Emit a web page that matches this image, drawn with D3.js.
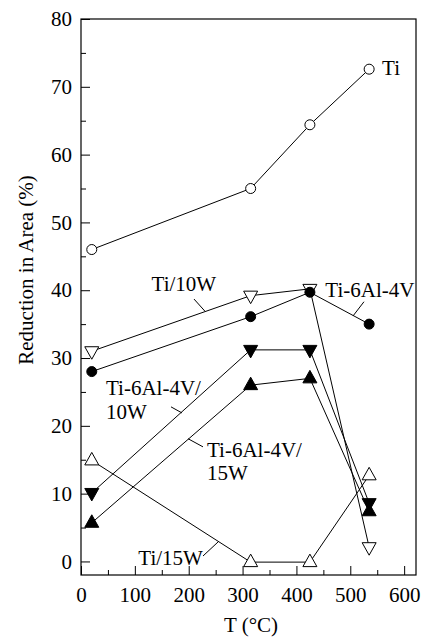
<!DOCTYPE html>
<html>
<head>
<meta charset="utf-8">
<script src="https://cdn.jsdelivr.net/npm/d3@7"></script>
<style>
html,body{margin:0;padding:0;background:#fff;}
svg{display:block;}
svg text{font-family:"Liberation Serif","Times New Roman",serif !important;fill:#000;}
</style>
</head>
<body>
<svg id="chart" width="422" height="641"></svg>
<script>
// ---- data ----
const temperatures = [20, 315, 425, 535];
const tiValues        = [46, 55, 64.4, 72.6];
const ti10WValues     = [31, 39.2, 40.2, 2.1];
const ti64Values      = [28, 36.1, 39.7, 35];
const ti64_10WValues  = [10.1, 31.2, 31.2, 8.6];
const ti64_15WValues  = [5.7, 26, 27, 7.4];
const ti15WValues     = [14.9, -0.1, -0.1, 12.7];
const xTicks = [0, 100, 200, 300, 400, 500, 600];
const yTicks = [0, 10, 20, 30, 40, 50, 60, 70, 80];
const xTitle = "T (\u00B0C)";
const yTitle = "Reduction in Area (%)";

const series = [
  {name: "Ti",              values: tiValues,       marker: "circle", filled: false},
  {name: "Ti/10W",          values: ti10WValues,    marker: "down",   filled: false},
  {name: "Ti-6Al-4V",       values: ti64Values,     marker: "circle", filled: true},
  {name: "Ti-6Al-4V/10W",   values: ti64_10WValues, marker: "down",   filled: true},
  {name: "Ti-6Al-4V/15W",   values: ti64_15WValues, marker: "up",     filled: true},
  {name: "Ti/15W",          values: ti15WValues,    marker: "up",     filled: false}
];

// annotation labels (data units; each line its own baseline)
const labels = [
  {text: "Ti",         x: 559,   y: 71.7},
  {text: "Ti/10W",     x: 131,   y: 39.9},
  {text: "Ti-6Al-4V",  x: 453.6, y: 39.0},
  {text: "Ti-6Al-4V/", x: 46.4,  y: 24.5},
  {text: "10W",        x: 46.4,  y: 20.95},
  {text: "Ti-6Al-4V/", x: 234,   y: 15.35},
  {text: "15W",        x: 234,   y: 12.0},
  {text: "Ti/15W",     x: 106.4, y: -0.5}
];
const leaders = [
  [[209.8, 38.7], [230.2, 36.9]],
  [[525.4, 38.3], [505, 36.2]],
  [[167.1, 22.8], [187.5, 21.9]],
  [[198.7, 18.1], [226.5, 16.9]],
  [[226.5, 0.8], [256.2, 3.0]]
];

// ---- layout ----
const svg = d3.select("#chart");
const x = d3.scaleLinear().domain([0, 622]).range([81, 416]);
const y = d3.scaleLinear().domain([-2, 80]).range([575, 19]);
const FS = 21;
const FF = '"Liberation Serif", "Times New Roman", serif';

// frame
svg.append("rect")
  .attr("x", x(0)).attr("y", y(80))
  .attr("width", x(622) - x(0)).attr("height", y(-2) - y(80))
  .attr("fill", "none").attr("stroke", "#000").attr("stroke-width", 1.2);

// y axis major
const yAxis = svg.append("g").attr("transform", `translate(${x(0)},0)`)
  .call(d3.axisLeft(y).tickValues(yTicks).tickSize(-9).tickPadding(9).tickFormat(d3.format("d")));
yAxis.attr("font-family", FF).attr("font-size", FS);
yAxis.select(".domain").remove();
yAxis.selectAll("text").attr("font-size", FS).attr("font-family", FF);
// y minor
const yMinor = svg.append("g").attr("transform", `translate(${x(0)},0)`)
  .call(d3.axisLeft(y).tickValues(yTicks.slice(0, -1).map(v => v + 5)).tickSize(-5).tickFormat(""));
yMinor.select(".domain").remove();

// x axis major
const xAxis = svg.append("g").attr("transform", `translate(0,${y(-2)})`)
  .call(d3.axisBottom(x).tickValues(xTicks).tickSize(-9).tickPadding(12).tickFormat(d3.format("d")));
xAxis.attr("font-family", FF).attr("font-size", FS);
xAxis.select(".domain").remove();
xAxis.selectAll("text").attr("font-size", FS).attr("font-family", FF);
const xMinor = svg.append("g").attr("transform", `translate(0,${y(-2)})`)
  .call(d3.axisBottom(x).tickValues(xTicks.slice(0, -1).map(v => v + 50)).tickSize(-5).tickFormat(""));
xMinor.select(".domain").remove();

// axis titles
svg.append("text").attr("x", 251).attr("y", 632).attr("text-anchor", "middle")
  .attr("font-family", FF).attr("font-size", FS).text(xTitle);
svg.append("text").attr("transform", "translate(33,270) rotate(-90)").attr("text-anchor", "middle")
  .attr("font-family", FF).attr("font-size", FS).text(yTitle);

// lines
const line = d3.line().x((d, i) => x(temperatures[i])).y(d => y(d));
svg.append("g").selectAll("path").data(series).join("path")
  .attr("d", s => line(s.values))
  .attr("fill", "none").attr("stroke", "#000").attr("stroke-width", 1);

// leaders
svg.append("g").selectAll("line").data(leaders).join("line")
  .attr("x1", d => x(d[0][0])).attr("y1", d => y(d[0][1]))
  .attr("x2", d => x(d[1][0])).attr("y2", d => y(d[1][1]))
  .attr("stroke", "#000").attr("stroke-width", 1);

// markers
function markerPath(type) {
  if (type === "up") return "M0,-8 L7,4.5 L-7,4.5 Z";
  if (type === "down") return "M0,8 L7,-4.5 L-7,-4.5 Z";
  return null;
}
series.forEach(s => {
  const g = svg.append("g");
  s.values.forEach((v, i) => {
    const cx = x(temperatures[i]), cy = y(v);
    if (s.marker === "circle") {
      g.append("circle").attr("cx", cx).attr("cy", cy).attr("r", 5)
        .attr("fill", s.filled ? "#000" : "#fff").attr("stroke", "#000").attr("stroke-width", 1);
    } else {
      g.append("path").attr("transform", `translate(${cx},${cy})`).attr("d", markerPath(s.marker))
        .attr("fill", s.filled ? "#000" : "#fff").attr("stroke", "#000").attr("stroke-width", 1);
    }
  });
});

// labels
svg.append("g").selectAll("text").data(labels).join("text")
  .attr("x", d => x(d.x)).attr("y", d => y(d.y))
  .attr("font-family", FF).attr("font-size", FS)
  .text(d => d.text);
</script>
</body>
</html>
